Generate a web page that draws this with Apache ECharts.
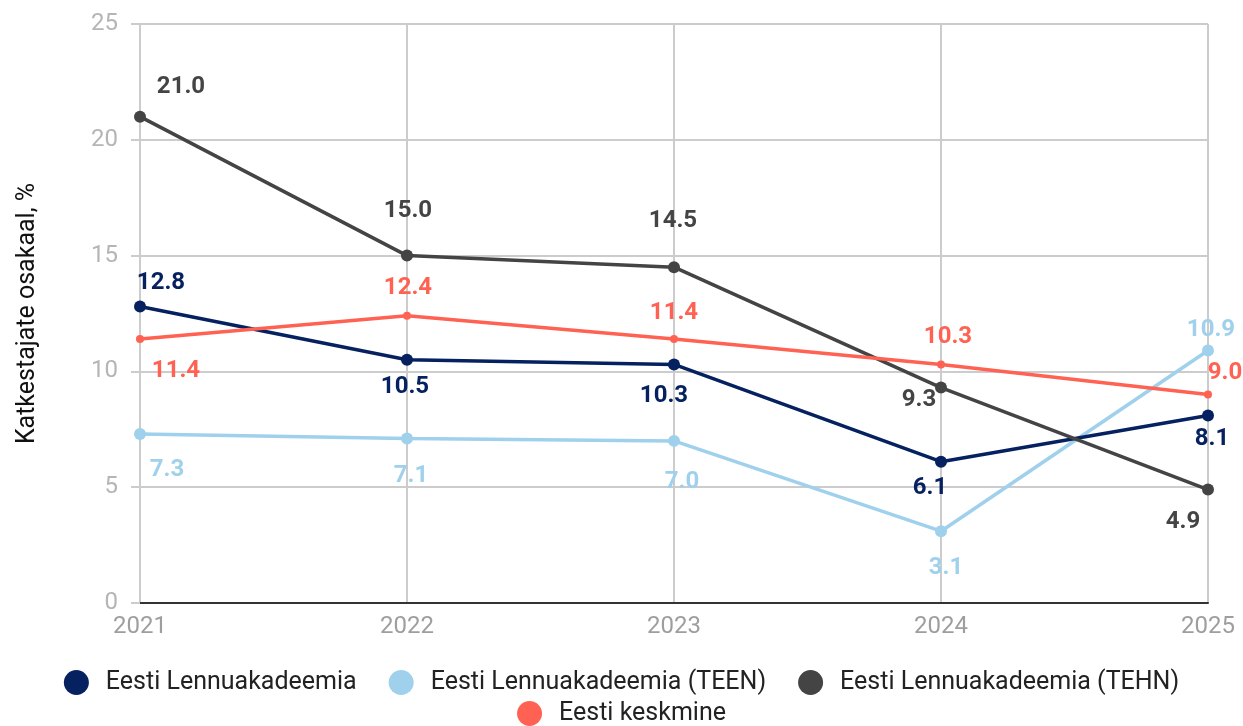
<!DOCTYPE html>
<html>
<head>
<meta charset="utf-8">
<script src="https://cdn.jsdelivr.net/npm/echarts@6/dist/echarts.min.js"></script>
<style>html,body{margin:0;padding:0;background:#fff}#c{width:1243px;height:726px}</style>
</head>
<body>
<div id="c"></div>
<script>
const years = ['2021', '2022', '2023', '2024', '2025'];
const seriesNames = ['Eesti Lennuakadeemia', 'Eesti Lennuakadeemia (TEEN)', 'Eesti Lennuakadeemia (TEHN)', 'Eesti keskmine'];
const lennuakadeemia = [12.8, 10.5, 10.3, 6.1, 8.1];
const teen = [7.3, 7.1, 7.0, 3.1, 10.9];
const tehn = [21.0, 15.0, 14.5, 9.3, 4.9];
const keskmine = [11.4, 12.4, 11.4, 10.3, 9.0];
const yTicks = [0, 5, 10, 15, 20, 25];

// label placement (pixel offsets from point), kept separate from data
const labelOffsets = [
  [[21,-24],[-2,27],[-10,32],[-11,26],[4,24]],
  [[27,36],[4,37],[8,41],[5,37],[3,-21]],
  [[41,-30],[1,-45],[-1,-46],[-22,12],[-25,32]],
  [[36,32],[1,-28],[0,-26],[7,-27],[17,-22]]
];
const colors = ['#06215f', '#9fd0ec', '#444444', '#ff6252'];
const symbolSizes = [12, 12, 12, 8];
const allData = [lennuakadeemia, teen, tehn, keskmine];

const chart = echarts.init(document.getElementById('c'));
const font = 'Roboto, "Noto Sans", sans-serif';

const series = allData.map((arr, si) => ({
  name: seriesNames[si],
  type: 'line',
  data: arr.map((v, i) => ({
    value: v,
    label: { offset: labelOffsets[si][i] }
  })),
  color: colors[si],
  symbol: 'circle',
  symbolSize: symbolSizes[si],
  lineStyle: { width: 3.5, color: colors[si] },
  itemStyle: { color: colors[si] },
  z: [3, 2, 4, 5][si],
  label: {
    show: true,
    position: 'inside',
    align: 'center',
    verticalAlign: 'middle',
    formatter: p => p.value.toFixed(1),
    color: colors[si],
    fontFamily: font,
    fontWeight: 'bold',
    fontSize: 24
  },
  emphasis: { disabled: true },
  animation: false
}));

const legendCommon = {
  icon: 'circle',
  itemWidth: 25,
  itemHeight: 25,
  itemGap: 32,
  padding: 0,
  left: 'center',
  selectedMode: false,
  textStyle: { fontFamily: font, fontSize: 25, color: '#222', padding: [0, 0, 0, 12] }
};

chart.setOption({
  backgroundColor: '#fff',
  animation: false,
  grid: { left: 140, right: 35, top: 24, bottom: 123, containLabel: false },
  legend: [
    Object.assign({}, legendCommon, { top: 670, data: seriesNames.slice(0, 3) }),
    Object.assign({}, legendCommon, { top: 701, data: seriesNames.slice(3) })
  ],
  xAxis: {
    type: 'category',
    data: years,
    boundaryGap: false,
    axisLine: { lineStyle: { color: '#333', width: 2 } },
    axisTick: { show: false },
    axisLabel: { color: '#9e9e9e', fontSize: 24, fontFamily: font, margin: 12 },
    splitLine: { show: true, lineStyle: { color: '#cccccc', width: 2 } }
  },
  yAxis: {
    type: 'value',
    min: yTicks[0],
    max: yTicks[yTicks.length - 1],
    interval: 5,
    name: 'Katkestajate osakaal, %',
    nameLocation: 'middle',
    nameGap: 100,
    nameRotate: 90,
    nameTextStyle: { color: '#111', fontSize: 25, fontFamily: font },
    axisLine: { show: false },
    axisTick: { show: true, length: 9, lineStyle: { color: '#cccccc', width: 2 } },
    axisLabel: { color: '#b5b5b5', fontSize: 24, fontFamily: font, margin: 22 },
    splitLine: { lineStyle: { color: '#cccccc', width: 2 } }
  },
  series: series
});
</script>
</body>
</html>
